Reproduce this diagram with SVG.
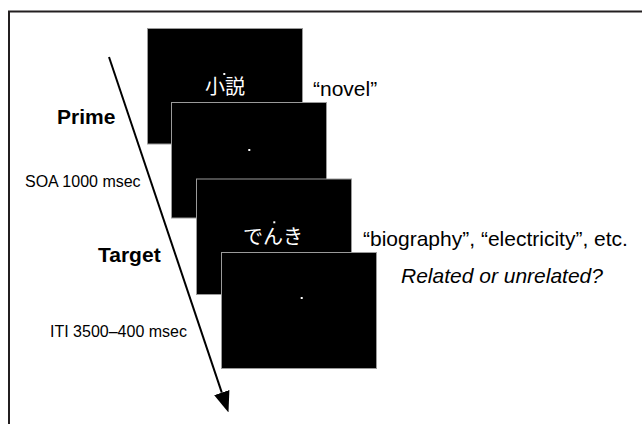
<svg xmlns="http://www.w3.org/2000/svg" width="642" height="424" viewBox="0 0 642 424">
  <defs>
    <style>
      .screen { fill: #000; stroke: #9a9a9a; stroke-width: 1; }
      .dot { fill: #fff; }
      .jp { font-family: "Liberation Sans", "Noto Sans CJK JP", sans-serif; fill: #fff; font-size: 20px; text-anchor: middle; }
      .lbl { font-family: "Liberation Sans", Arial, sans-serif; fill: #000; }
      .bold { font-weight: bold; font-size: 21px; }
      .small { font-size: 16px; }
      .big { font-size: 21px; }
    </style>
    <marker id="ah" markerUnits="userSpaceOnUse" viewBox="0 0 21 16" markerWidth="21" markerHeight="16" refX="0" refY="8" orient="auto">
      <path d="M0,0 L21,8 L0,16 z" fill="#000"/>
    </marker>
  </defs>
  <rect width="642" height="424" fill="#fff"/>
  <path d="M9,430 V11.5 H650" fill="none" stroke="#231f20" stroke-width="2"/>

  <g id="connectors">
    <line x1="109" y1="57" x2="221.8" y2="392.6" stroke="#000" stroke-width="2" marker-end="url(#ah)"/>
  </g>

  <g id="screen1">
    <rect class="screen" x="147.5" y="28.5" width="155" height="115.5"/>
    <text class="jp" x="225" y="94" font-size="21">小説</text>
    <rect class="dot" x="223.3" y="73" width="2" height="2"/>
  </g>
  <g id="screen2">
    <rect class="screen" x="171.5" y="102.5" width="155" height="115.5"/>
    <rect class="dot" x="248.3" y="149" width="2" height="2"/>
  </g>
  <g id="screen3">
    <rect class="screen" x="196.5" y="179" width="155" height="115.5"/>
    <text class="jp" x="273" y="244">でんき</text>
    <rect class="dot" x="273.3" y="221.3" width="2" height="2"/>
  </g>
  <g id="screen4">
    <rect class="screen" x="221.5" y="252.5" width="155" height="116"/>
    <rect class="dot" x="300.7" y="297" width="2" height="2"/>
  </g>

  <g id="labels">
    <text class="lbl bold" x="57" y="124">Prime</text>
    <text class="lbl small" x="25" y="187">SOA 1000 msec</text>
    <text class="lbl bold" x="98" y="262">Target</text>
    <text class="lbl small" x="50" y="337">ITI 3500–400 msec</text>
    <text class="lbl big" x="313" y="96">“novel”</text>
    <text class="lbl big" x="363" y="246">“biography”, “electricity”, etc.</text>
    <text class="lbl big" x="401" y="283" font-style="italic">Related or unrelated?</text>
  </g>
</svg>
